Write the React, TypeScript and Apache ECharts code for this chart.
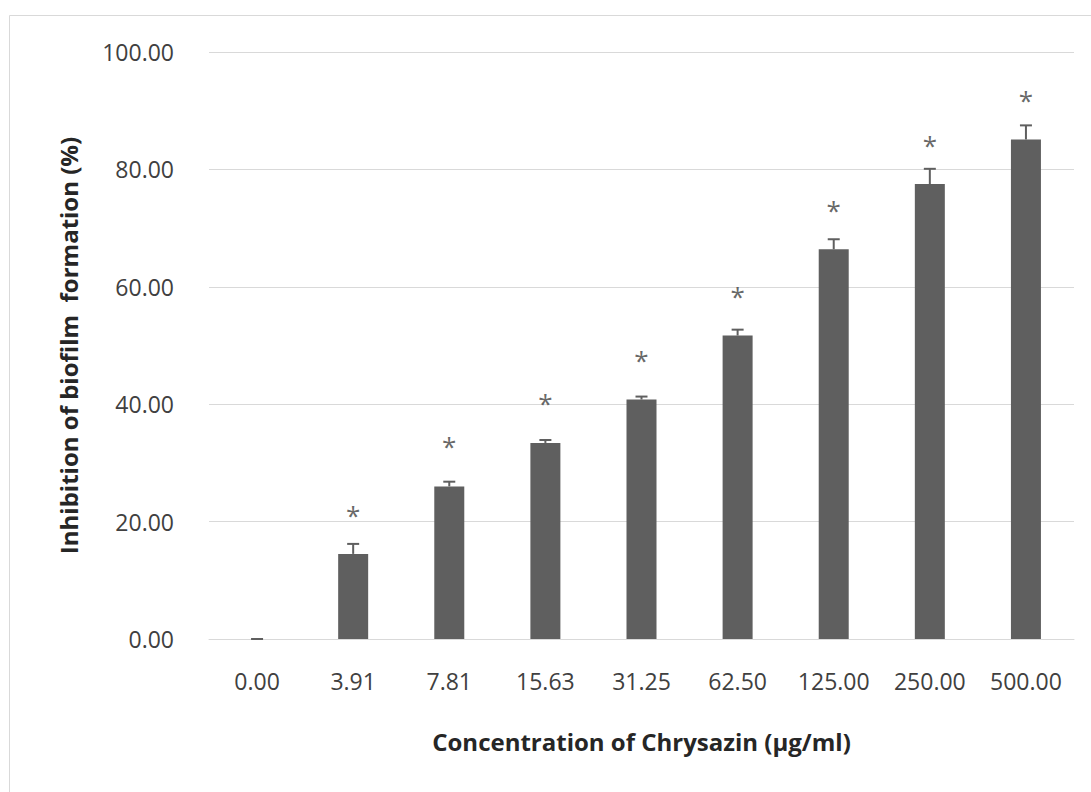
import React, { useEffect, useRef } from "react";
import * as echarts from "echarts";

const categories = ["0.00", "3.91", "7.81", "15.63", "31.25", "62.50", "125.00", "250.00", "500.00"];
const inhibition = [0, 14.5, 26.0, 33.4, 40.8, 51.7, 66.4, 77.5, 85.1];
const errors = [0, 1.7, 0.8, 0.5, 0.5, 1.0, 1.7, 2.6, 2.4];
const starLevels = [null, 21.7, 33.4, 40.7, 48.0, 58.9, 73.6, 84.7, 92.3];
const yTicks = [0, 20, 40, 60, 80, 100];

const FONT = "Open Sans";

export default function App() {
  const ref = useRef<HTMLDivElement>(null);
  useEffect(() => {
    if (!ref.current) return;
    const chart = echarts.init(ref.current, null, { renderer: "svg" });
    chart.setOption({
      animation: false,
      backgroundColor: "#ffffff",
      graphic: [
        {
          type: "rect",
          shape: { x: 9.5, y: 15.5, width: 1300, height: 1000 },
          style: { fill: "none", stroke: "#d9d9d9", lineWidth: 1 },
          silent: true,
        },
      ],
      grid: { left: 209, right: 17, top: 52, bottom: 153, containLabel: false },
      xAxis: {
        type: "category",
        data: categories,
        axisLine: { show: true, lineStyle: { color: "#d9d9d9", width: 1 } },
        axisTick: { show: false },
        axisLabel: { color: "#404040", fontSize: 23, fontFamily: FONT, margin: 30 },
        name: "Concentration of Chrysazin (μg/ml)",
        nameLocation: "middle",
        nameGap: 90,
        nameTextStyle: { color: "#262626", fontSize: 24, fontWeight: "bold", fontFamily: FONT },
      },
      yAxis: {
        type: "value",
        min: yTicks[0],
        max: yTicks[yTicks.length - 1],
        interval: 20,
        axisLine: { show: false },
        axisTick: { show: false },
        splitLine: { show: true, lineStyle: { color: "#d9d9d9", width: 1 } },
        axisLabel: {
          color: "#404040",
          fontSize: 23,
          fontFamily: FONT,
          margin: 35,
          formatter: (v: number) => v.toFixed(2),
        },
        name: "Inhibition of biofilm  formation (%)",
        nameLocation: "middle",
        nameGap: 129,
        nameTextStyle: { color: "#262626", fontSize: 24, fontWeight: "bold", fontFamily: FONT },
      },
      series: [
        {
          type: "bar",
          data: inhibition,
          barWidth: 30,
          itemStyle: { color: "#5f5f5f" },
          z: 2,
        },
        {
          type: "custom",
          z: 3,
          data: inhibition.map((v, i) => [i, v, v + errors[i]]),
          renderItem: (params: any, api: any) => {
            const x = api.value(0);
            const base = api.coord([x, api.value(1)]);
            const top = api.coord([x, api.value(2)]);
            const half = 6;
            return {
              type: "group",
              children: [
                {
                  type: "line",
                  shape: { x1: base[0], y1: base[1], x2: top[0], y2: top[1] },
                  style: { stroke: "#5f5f5f", lineWidth: 2 },
                },
                {
                  type: "line",
                  shape: { x1: top[0] - half, y1: top[1], x2: top[0] + half, y2: top[1] },
                  style: { stroke: "#5f5f5f", lineWidth: 2 },
                },
              ],
            };
          },
        },
        {
          type: "scatter",
          symbolSize: 0,
          z: 4,
          data: starLevels.map((v, i) => (v === null ? [i, null] : [i, v])),
          label: {
            show: true,
            position: "inside",
            formatter: "*",
            color: "#404040",
            fontSize: 26,
            fontFamily: FONT,
            offset: [0, 3],
          },
        },
      ],
    });
    return () => chart.dispose();
  }, []);
  return (
    <div
      ref={ref}
      style={{ position: "fixed", left: 0, top: 0, width: 1091, height: 792 }}
    />
  );
}
